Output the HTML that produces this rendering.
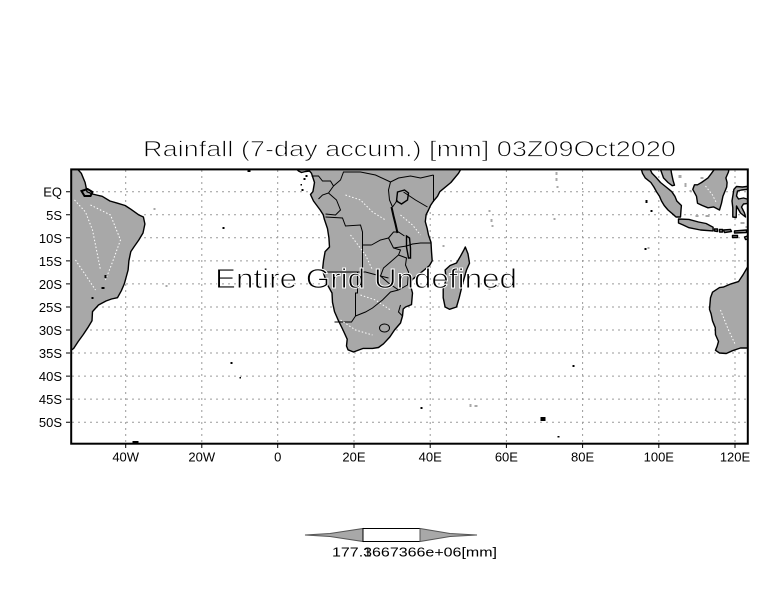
<!DOCTYPE html>
<html><head><meta charset="utf-8"><style>
html,body{margin:0;padding:0;background:#fff;}
svg{display:block;}
text{font-family:"Liberation Sans",sans-serif;}
</style></head><body>
<svg width="784" height="612" viewBox="0 0 784 612" xmlns="http://www.w3.org/2000/svg">
<rect width="784" height="612" fill="#fff"/>
<defs><clipPath id="pc"><rect x="71" y="169.5" width="677" height="274"/></clipPath></defs>

<text x="143" y="156.5" font-size="22" textLength="533" lengthAdjust="spacingAndGlyphs" fill="#000" stroke="#fff" stroke-width="0.8">Rainfall (7-day accum.) [mm] 03Z09Oct2020</text>

<g stroke="#9a9a9a" stroke-width="1" stroke-dasharray="2 4" fill="none">
<path d="M125.7 170V443M201.8 170V443M277.7 170V443M354 170V443M430.2 170V443M506.4 170V443M582.6 170V443M658.8 170V443M735 170V443"/>
<path d="M72 191.7H747M72 214.75H747M72 237.8H747M72 260.85H747M72 283.9H747M72 306.95H747M72 330H747M72 353.05H747M72 376.1H747M72 399.15H747M72 422.2H747"/>
</g>

<g clip-path="url(#pc)" transform="translate(0.5,0)">
<g fill="#a8a8a8" stroke="#000" stroke-width="1.4" stroke-linejoin="round">
<polygon points="296,169 298,171 301,172.5 305,171.5 309,171 311,173.3 314,182.5 312.4,191.7 310,194.5 313,201 319.7,210 322.7,214.7 323.9,219.4 327,228.6 328.4,237.8 329,247 324.6,251.6 323,260.8 322,270 326.5,283.9 331.5,293 332,302.3 334,311.6 338,320.8 342.5,330 346.7,339.2 346,346 347.5,349.8 353,352 362.7,348.4 372,348.4 378,347.5 383,343.8 389.4,336.9 394,330 400,323 402,316 402.7,309 405,307 411,304.6 412,293 409.6,283.9 412,279.3 418,274.7 423.7,270 429,265.5 431.7,260.8 431,251.6 430.5,242.4 428,235 426.7,228.6 424.8,221.7 425.6,214.7 428,210 430,205.5 433,201 437,196.3 439.3,191.7 450.4,182.5 458,173.3 461,168 296,168"/>
<polygon points="464.8,247 467.5,253.9 469,263.2 466,270 462,284 458.7,297.7 456,307 449,309.3 444.6,307 442.7,297.7 442.7,288.5 445.8,279.3 444.6,270 449.6,265.5 456,263 460,256.2 463.7,249.3"/>
<polygon points="68,168 76,168 80.8,173.3 84.6,182.5 86.5,191.7 92,194 96,195 101.7,196.3 109.4,201 117,203.2 124.6,205.5 130.3,209.2 138,214.7 142.9,217 144.4,224 142.5,233 138.3,240 133.4,247 130.3,251.6 128.4,260.8 127.6,270 125.7,277 123.8,283.9 120.8,290.8 117,297.7 111,299 105.5,301 98,305 92,311.6 91.5,320.8 87.3,327.7 82.7,334.6 77.7,341.5 73.2,348.4 68,352"/>
<polygon points="750,262 742.6,274.7 738,281.6 730.4,283.9 722.8,287.1 719,287.6 712,292.2 710,297.7 709.4,304.6 709,309.3 710.6,313.9 712,320.8 714.8,327.7 715,334.6 718,341.5 716.7,346.1 715,350.3 719,353 725.8,353.5 732,350.7 740,348 750,348"/>
<polygon points="640.5,168 649,168 651.5,173.3 656,177.9 660,182.5 665.6,187 671.3,191.7 674.4,196.3 676.3,201 680.9,205.5 680.5,210 680,217 675.5,217 673,214.7 667.5,210 663.7,205.5 661,201 659,196.3 656,191.7 653.4,187 650.4,182.5 644.7,177.9 642,173.3"/>
<polygon points="659.5,168 663,177.9 667.5,182.5 671.7,185.7 674,185.2 672.5,180.2 671,173.3 670.2,168"/>
<polygon points="714.8,168 711,173.3 707.5,177.9 701,182.5 697,184.8 694,184.8 692.3,189.4 696,196.3 697,203.2 701.8,205.5 707.5,207.8 713,206.9 719,210 721,203.2 722.4,196.3 726.2,187 726.6,182.5 725.4,177.9 728,171.9 728.5,168"/>
<polygon points="733.4,189.4 736,186.5 742,187 750,186 750,189 741,190 737,191 736,196 738,199 743,198 750,200 750,203 743,204 741,207 744,213 745,217 740,213 736,206 735.7,217.5 732.3,217 732.3,207.8 731.5,201"/>
<polygon points="678,219 688.5,219.4 698,222 705.6,223.5 712.6,227.2 712.6,230.9 700,230 688.5,227.7 682.4,224.9 678,223"/>
<polygon points="714,229 717,229 717,231.5 714,231"/>
<polygon points="719,229.5 722,229.5 722,232 719,232"/>
<polygon points="723,230 730,229.5 731,231.5 724,232.5"/>
<polygon points="734,231 746,230 746,232.5 734,233"/>
<polygon points="732,235.5 737,235.5 737,237.5 732,237.5"/>
<polygon points="744,237 750,235 750,239 745,239.5"/>
</g>

<g fill="none" stroke="#000" stroke-width="1">
<polyline points="311,176 318,176 322,181 330,181 333,186 328,193 322,195 318,199"/>
<polyline points="333,186 340,180 343,172 360,172 375,175 390,182"/>
<polyline points="328,193 336,200 340,210 335,215 325,214"/>
<polyline points="325,217 342,218 345,226 360,225 362,232 362,245 371,245"/>
<polyline points="362,245 362,271"/>
<polyline points="322,272 352,272 365,272 380,276 388,278"/>
<polyline points="357,272 357,293 355,293 355,316 351,322 334,322"/>
<polyline points="355,316 365,312 372,308 382,300 390,292 398,290"/>
<polyline points="380,276 388,283 398,290"/>
<polyline points="371,245 380,240 388,238 393,248 400,250 398,255 390,262 383,268 380,276"/>
<polyline points="393,248 406,246 412,244 420,243 431,243"/>
<polyline points="398,290 407,285 408,272 405,265 406,258 398,255"/>
<polyline points="400,305 398,312 402,316"/>
<polyline points="392,207 389,200 388,190 390,182"/>
<polyline points="390,182 398,178 410,176 420,178 433,175"/>
<polyline points="433,175 433,202"/>
<polyline points="427,207 415,200 403,192"/>
<polyline points="392,207 397,200"/>
<polyline points="388,238 393,232 398,232 404,236"/>
<ellipse cx="384" cy="328" rx="5" ry="4"/>
<polygon points="397,192 404,190 408,193 407,200 401,204 396,201" stroke-width="1.4"/>
<polygon points="406,236 409,238 410,248 410,258 408,258 406,247" stroke-width="1.4"/>
<polyline points="391,207 393,216 395,224 397,233" stroke-width="2"/>
<polygon points="81,191 87,189 92,192 90,196 84,196" stroke-width="2"/>
</g>

<g fill="none" stroke="#fff" stroke-width="1" stroke-dasharray="1.5 2">
<polyline points="74,200 85,212 92,230 96,250 100,270"/>
<polyline points="90,205 110,215 120,240 112,262 105,280"/>
<polyline points="75,260 85,275 95,290"/>
<polyline points="345,195 360,200 372,212 385,220"/>
<polyline points="350,235 365,255 372,270"/>
<polyline points="360,295 375,300 390,310"/>
<polyline points="340,320 355,330 372,335"/>
<polyline points="400,215 412,225 420,235"/>
<polyline points="720,310 728,330 735,345"/>
<polyline points="705,186 712,195 716,203"/>
</g>

<g fill="#a8a8a8">
<rect x="555" y="172" width="2" height="3"/><rect x="555" y="178" width="2" height="3"/><rect x="556" y="186" width="2" height="2"/>
<rect x="553" y="218" width="2" height="2"/><rect x="488" y="210" width="2" height="2"/><rect x="490" y="219" width="2" height="3"/>
<rect x="491" y="225" width="2" height="2"/><rect x="442" y="245" width="2" height="2"/><rect x="496" y="285" width="2" height="2"/>
<rect x="488" y="288" width="2" height="2"/><rect x="165" y="285" width="2" height="2"/><rect x="153" y="208" width="2" height="2"/>
<rect x="469" y="404" width="2" height="3"/><rect x="474" y="405" width="3" height="2"/><rect x="678" y="175" width="3" height="3"/>
<rect x="684" y="183" width="2" height="4"/><rect x="700" y="177" width="3" height="2"/><rect x="689" y="190" width="2" height="2"/>
<rect x="695" y="215" width="3" height="2"/><rect x="705" y="215" width="4" height="2"/><rect x="740" y="222" width="4" height="2"/>
<rect x="745" y="226" width="3" height="2"/><rect x="647" y="247" width="2" height="2"/>
</g>
<g fill="#000">
<rect x="222" y="227" width="2" height="2"/><rect x="230" y="362" width="2" height="2"/><rect x="239" y="377" width="1.5" height="1.5"/>
<rect x="420" y="407" width="2" height="2"/><rect x="572" y="365" width="2" height="2"/><rect x="540" y="417" width="5" height="4"/>
<rect x="557" y="436" width="2" height="1.5"/><rect x="132" y="441" width="6" height="2"/><rect x="644" y="248" width="2" height="2"/>
<rect x="301" y="189" width="2" height="2"/><rect x="303" y="178" width="2" height="2"/><rect x="305" y="175" width="2" height="2"/>
<rect x="300" y="184" width="1.5" height="1.5"/><rect x="247" y="169" width="3" height="3"/>
<rect x="104" y="275" width="2" height="3"/><rect x="101" y="287" width="3" height="2"/><rect x="91" y="297" width="2" height="2"/>
<rect x="645" y="200" width="2" height="3"/><rect x="650" y="210" width="2" height="2"/>
</g>
</g>

<text x="215" y="288" font-size="28" textLength="302" lengthAdjust="spacingAndGlyphs" fill="#000" stroke="#fff" stroke-width="0.9">Entire Grid Undefined</text>

<rect x="71.2" y="169.4" width="676.6" height="274.3" fill="none" stroke="#000" stroke-width="2"/>

<g stroke="#000" stroke-width="1">
<path d="M66 191.7H70M66 214.75H70M66 237.8H70M66 260.85H70M66 283.9H70M66 306.95H70M66 330H70M66 353.05H70M66 376.1H70M66 399.15H70M66 422.2H70"/>
<path d="M125.7 444V448M201.8 444V448M277.7 444V448M354 444V448M430.2 444V448M506.4 444V448M582.6 444V448M658.8 444V448M735 444V448"/>
</g>

<g font-size="13" fill="#000" text-anchor="end">
<text x="62" y="196.7">EQ</text>
<text x="62" y="219.75">5S</text>
<text x="62" y="242.8">10S</text>
<text x="62" y="265.85">15S</text>
<text x="62" y="288.9">20S</text>
<text x="62" y="311.95">25S</text>
<text x="62" y="335">30S</text>
<text x="62" y="358.05">35S</text>
<text x="62" y="381.1">40S</text>
<text x="62" y="404.15">45S</text>
<text x="62" y="427.2">50S</text>
</g>
<g font-size="13" fill="#000" text-anchor="middle">
<text x="125.7" y="461.5">40W</text>
<text x="201.8" y="461.5">20W</text>
<text x="277.7" y="461.5">0</text>
<text x="354" y="461.5">20E</text>
<text x="430.2" y="461.5">40E</text>
<text x="506.4" y="461.5">60E</text>
<text x="582.6" y="461.5">80E</text>
<text x="658.8" y="461.5">100E</text>
<text x="735" y="461.5">120E</text>
</g>

<polygon points="305,535 330,533.5 363,528.5 363,541.5 330,536.5" fill="#a8a8a8" stroke="#555" stroke-width="1"/>
<rect x="363" y="528.5" width="57" height="13" fill="#fff" stroke="#000" stroke-width="1"/>
<polygon points="420,528.5 420,541.5 450,536.5 477,535 450,533.5" fill="#a8a8a8" stroke="#555" stroke-width="1"/>
<text x="332" y="556.5" font-size="13" fill="#000" textLength="165" lengthAdjust="spacingAndGlyphs">177.3667366e+06[mm]</text>
<text x="364" y="556.5" font-size="13" fill="#000">1</text>
</svg>
</body></html>
